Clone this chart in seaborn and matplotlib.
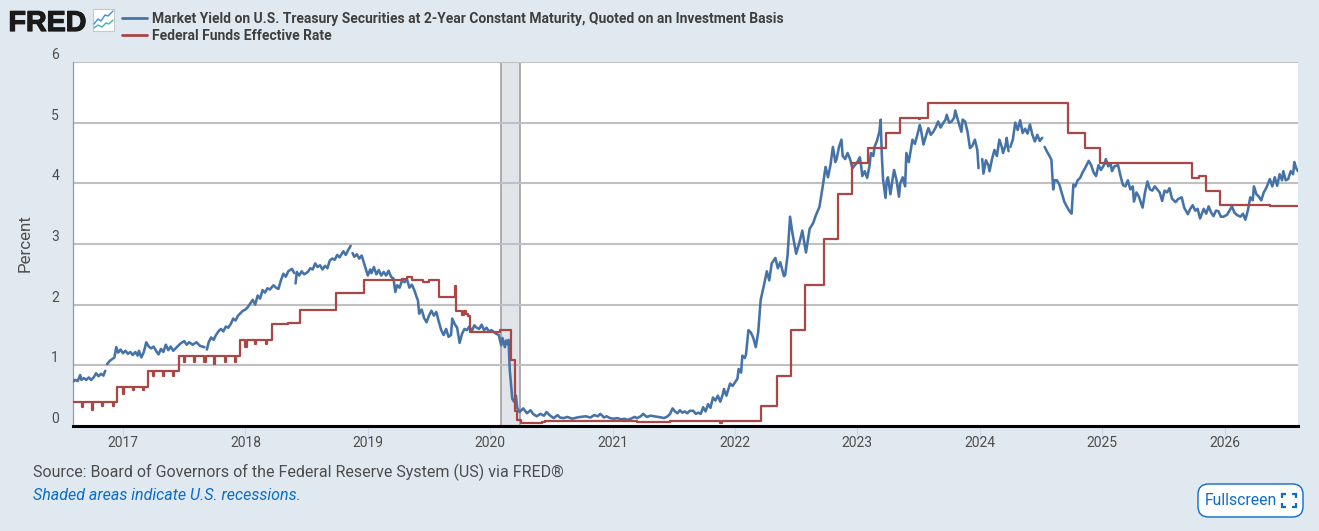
#!/usr/bin/env python3
"""FRED chart: 2-year Treasury yield vs effective fed funds rate"""

import numpy as np
import pandas as pd
import matplotlib
matplotlib.use("Agg")
import matplotlib.pyplot as plt
import matplotlib.patheffects as pe
from matplotlib.lines import Line2D
from matplotlib.patches import FancyBboxPatch, Rectangle
import seaborn as sns

# --- data (decimal years, percent) ---
blue_dates = [
    2016.59, 2016.61, 2016.63, 2016.65, 2016.66, 2016.68, 2016.70, 2016.72, 2016.74, 2016.76, 2016.78,
    2016.80, 2016.82, 2016.84, 2016.855, 2016.87, 2016.89, 2016.91, 2016.93, 2016.945, 2016.96, 2016.98,
    2017.00, 2017.02, 2017.04, 2017.06, 2017.08, 2017.10, 2017.12, 2017.13, 2017.15, 2017.17,
    2017.19, 2017.21, 2017.23, 2017.25, 2017.27, 2017.29, 2017.31, 2017.33, 2017.35, 2017.37,
    2017.39, 2017.41, 2017.43, 2017.45, 2017.47, 2017.50, 2017.52, 2017.54, 2017.57, 2017.60,
    2017.63, 2017.665, 2017.685, 2017.70, 2017.72, 2017.74, 2017.76, 2017.78, 2017.80, 2017.82,
    2017.84, 2017.86, 2017.88, 2017.90, 2017.92, 2017.94, 2017.96, 2017.98,
    2018.00, 2018.02, 2018.04, 2018.06, 2018.08, 2018.10, 2018.12, 2018.14, 2018.16, 2018.18,
    2018.20, 2018.23, 2018.25, 2018.27, 2018.29, 2018.31, 2018.33, 2018.35, 2018.38, 2018.40,
    2018.41, 2018.42, 2018.44, 2018.46, 2018.48, 2018.51, 2018.53, 2018.55, 2018.57, 2018.59,
    2018.61, 2018.63, 2018.65, 2018.67, 2018.69, 2018.71, 2018.73, 2018.75, 2018.77, 2018.80,
    2018.82, 2018.84, 2018.86, 2018.875, 2018.89, 2018.91, 2018.93, 2018.95, 2018.97,
    2019.00, 2019.02, 2019.03, 2019.05, 2019.07, 2019.09, 2019.11, 2019.13, 2019.15, 2019.17,
    2019.19, 2019.21, 2019.225, 2019.24, 2019.26, 2019.28, 2019.30, 2019.32, 2019.34, 2019.36,
    2019.38, 2019.40, 2019.41, 2019.42, 2019.44, 2019.46, 2019.48, 2019.50, 2019.52, 2019.54,
    2019.56, 2019.58, 2019.60, 2019.62, 2019.64, 2019.66, 2019.68, 2019.69, 2019.71, 2019.73,
    2019.75, 2019.77, 2019.79, 2019.81, 2019.83, 2019.85, 2019.87, 2019.89, 2019.91, 2019.93,
    2019.95, 2019.97, 2019.99,
    2020.01, 2020.03, 2020.05, 2020.07, 2020.09, 2020.10, 2020.12, 2020.13, 2020.14, 2020.15,
    2020.16, 2020.17, 2020.18, 2020.195, 2020.21, 2020.22, 2020.24, 2020.27, 2020.30, 2020.33,
    2020.35, 2020.38, 2020.41, 2020.44, 2020.46, 2020.49, 2020.52, 2020.55, 2020.57, 2020.60,
    2020.63, 2020.67, 2020.71, 2020.74, 2020.78, 2020.82, 2020.85, 2020.88, 2020.90, 2020.93,
    2020.95, 2020.98,
    2021.01, 2021.04, 2021.07, 2021.10, 2021.12, 2021.15, 2021.18, 2021.20, 2021.23, 2021.25,
    2021.28, 2021.31, 2021.34, 2021.37, 2021.40, 2021.42, 2021.45, 2021.47, 2021.49, 2021.51,
    2021.53, 2021.55, 2021.57, 2021.59, 2021.61, 2021.63, 2021.66, 2021.68, 2021.70, 2021.72,
    2021.74, 2021.76, 2021.78, 2021.80, 2021.82, 2021.84, 2021.86, 2021.88, 2021.90, 2021.91,
    2021.93, 2021.96, 2021.98,
    2022.00, 2022.02, 2022.03, 2022.05, 2022.06, 2022.08, 2022.09, 2022.11, 2022.13, 2022.15,
    2022.17, 2022.19, 2022.21, 2022.24, 2022.26, 2022.28, 2022.30, 2022.33, 2022.35, 2022.37,
    2022.40, 2022.41, 2022.43, 2022.45, 2022.47, 2022.50, 2022.53, 2022.55, 2022.58, 2022.61,
    2022.64, 2022.66, 2022.69, 2022.72, 2022.74, 2022.76, 2022.78, 2022.80, 2022.82, 2022.83,
    2022.85, 2022.87, 2022.88, 2022.90, 2022.92, 2022.94, 2022.96, 2022.98,
    2023.00, 2023.02, 2023.03, 2023.04, 2023.06, 2023.08, 2023.10, 2023.11, 2023.13, 2023.14,
    2023.16, 2023.18, 2023.19, 2023.20, 2023.21, 2023.23, 2023.24, 2023.25, 2023.27, 2023.29,
    2023.30, 2023.32, 2023.34, 2023.35, 2023.37, 2023.39, 2023.40, 2023.42, 2023.45, 2023.47,
    2023.49, 2023.51, 2023.52, 2023.54, 2023.56, 2023.58, 2023.60, 2023.62, 2023.64, 2023.66,
    2023.68, 2023.70, 2023.72, 2023.73, 2023.75, 2023.77, 2023.79, 2023.80, 2023.82, 2023.85,
    2023.86, 2023.88, 2023.90, 2023.92, 2023.94, 2023.96, 2023.98, 2023.99,
    2024.02, 2024.03, 2024.05, 2024.07, 2024.08, 2024.10, 2024.12, 2024.14, 2024.16, 2024.18,
    2024.19, 2024.21, 2024.22, 2024.235, 2024.25, 2024.27, 2024.29, 2024.31, 2024.33, 2024.35,
    2024.37, 2024.39, 2024.41, 2024.43, 2024.45, 2024.47, 2024.49, 2024.51, 2024.53, 2024.55,
    2024.57, 2024.585, 2024.60, 2024.61, 2024.63, 2024.65, 2024.67, 2024.69, 2024.71, 2024.73,
    2024.75, 2024.765, 2024.78, 2024.80, 2024.82, 2024.84, 2024.86, 2024.89, 2024.91, 2024.93,
    2024.95, 2024.97, 2024.99,
    2025.02, 2025.03, 2025.05, 2025.07, 2025.08, 2025.10, 2025.13, 2025.15, 2025.17, 2025.19,
    2025.21, 2025.23, 2025.25, 2025.26, 2025.28, 2025.30, 2025.33, 2025.35, 2025.37, 2025.39,
    2025.41, 2025.43, 2025.45, 2025.47, 2025.49, 2025.51, 2025.53, 2025.55, 2025.57, 2025.60,
    2025.62, 2025.65, 2025.67, 2025.70, 2025.72, 2025.74, 2025.76, 2025.78, 2025.80, 2025.83,
    2025.85, 2025.87, 2025.89, 2025.91, 2025.93, 2025.95, 2025.97, 2025.99,
    2026.02, 2026.04, 2026.06, 2026.08, 2026.10, 2026.13, 2026.15, 2026.17, 2026.19, 2026.21,
    2026.23, 2026.24, 2026.26, 2026.28, 2026.30, 2026.32, 2026.34, 2026.37, 2026.39, 2026.41,
    2026.43, 2026.45, 2026.47, 2026.48, 2026.50, 2026.52, 2026.54, 2026.56, 2026.57, 2026.585,
    2026.60,
]
blue_values = [
    .73, .76, .74, .84, .76, .79, .76, .80, .76, .80, .87,
    .82, .86, .83, .91, 1.02, 1.07, 1.10, 1.13, 1.30, 1.21, 1.26,
    1.20, 1.24, 1.19, 1.22, 1.17, 1.22, 1.16, 1.24, 1.13, 1.22,
    1.38, 1.31, 1.28, 1.31, 1.24, 1.18, 1.27, 1.22, 1.34, 1.25,
    1.31, 1.24, 1.28, 1.32, 1.36, 1.40, 1.34, 1.38, 1.34, 1.38,
    1.32, 1.30, 1.26, 1.38, 1.46, 1.42, 1.50, 1.56, 1.60, 1.56,
    1.64, 1.62, 1.68, 1.77, 1.74, 1.82, 1.86, 1.90,
    1.92, 1.96, 2.02, 2.08, 2.00, 2.15, 2.10, 2.24, 2.20, 2.27,
    2.25, 2.32, 2.28, 2.26, 2.40, 2.51, 2.46, 2.55, 2.59, 2.52,
    2.35, 2.54, 2.48, 2.55, 2.50, 2.54, 2.60, 2.58, 2.68, 2.62,
    2.65, 2.58, 2.64, 2.60, 2.73, 2.76, 2.74, 2.82, 2.78, 2.88,
    2.82, 2.90, 2.97, 2.85, 2.79, 2.83, 2.76, 2.81, 2.68,
    2.48, 2.58, 2.52, 2.62, 2.50, 2.57, 2.48, 2.54, 2.48, 2.56,
    2.46, 2.43, 2.21, 2.32, 2.28, 2.40, 2.37, 2.42, 2.28, 2.33,
    2.24, 2.12, 2.07, 1.85, 1.92, 1.78, 1.71, 1.82, 1.90, 1.82,
    1.88, 1.72, 1.58, 1.50, 1.60, 1.47, 1.50, 1.77, 1.68, 1.62,
    1.37, 1.52, 1.60, 1.58, 1.64, 1.56, 1.66, 1.62, 1.60, 1.67,
    1.58, 1.62, 1.56,
    1.58, 1.55, 1.52, 1.50, 1.33, 1.45, 1.30, 1.41, 1.35, 1.42,
    .92, .70, .45, .40, .50, .30, .23, .29, .21, .26,
    .20, .16, .20, .17, .23, .17, .13, .18, .14, .13,
    .15, .12, .14, .15, .16, .14, .18, .16, .20, .14,
    .16, .13,
    .12, .13, .11, .12, .10, .12, .15, .13, .16, .20,
    .15, .17, .16, .15, .14, .13, .16, .20, .29, .24,
    .21, .26, .22, .24, .21, .25, .25, .20, .22, .20,
    .31, .24, .36, .30, .47, .42, .50, .40, .52, .61,
    .50, .70, .66,
    .72, .78, .94, .88, 1.16, 1.12, 1.18, 1.58, 1.54, 1.45,
    1.30, 1.55, 2.08, 2.35, 2.55, 2.40, 2.68, 2.77, 2.60, 2.70,
    2.47, 2.49, 2.82, 3.45, 3.17, 2.84, 3.05, 3.22, 2.86, 3.25,
    3.35, 3.47, 3.61, 3.99, 4.27, 4.10, 4.30, 4.60, 4.35, 4.40,
    4.60, 4.72, 4.45, 4.40, 4.50, 4.40, 4.25, 4.30,
    4.35, 4.43, 4.30, 4.12, 4.20, 4.09, 4.30, 4.50, 4.45, 4.60,
    4.70, 4.85, 5.05, 4.45, 4.06, 3.76, 4.05, 4.10, 3.82, 4.10,
    4.22, 4.05, 3.78, 4.00, 4.10, 3.95, 4.50, 4.35, 4.72, 4.65,
    4.80, 4.96, 4.88, 4.64, 4.78, 4.91, 4.80, 4.85, 4.92, 5.02,
    4.92, 4.99, 5.05, 5.13, 5.00, 5.02, 5.08, 5.20, 5.05, 4.85,
    5.05, 5.02, 4.85, 4.58, 4.62, 4.72, 4.55, 4.25,
    4.40, 4.16, 4.38, 4.30, 4.20, 4.40, 4.55, 4.45, 4.72, 4.60,
    4.50, 4.62, 4.75, 4.53, 4.60, 4.72, 5.00, 4.88, 5.04, 4.83,
    4.90, 4.82, 4.97, 4.80, 4.69, 4.80, 4.70, 4.75, 4.60, 4.52,
    4.45, 4.39, 3.90, 4.05, 4.05, 3.98, 3.84, 3.70, 3.62, 3.55,
    3.50, 3.98, 3.95, 4.05, 4.09, 4.18, 4.25, 4.37, 4.30, 4.18,
    4.12, 4.30, 4.22,
    4.32, 4.40, 4.28, 4.32, 4.20, 4.28, 4.30, 4.12, 3.97, 3.95,
    4.05, 3.90, 3.95, 3.70, 3.85, 3.78, 3.60, 3.85, 4.03, 3.90,
    3.88, 3.95, 3.90, 3.85, 3.71, 3.88, 3.85, 3.92, 3.75, 3.69,
    3.74, 3.77, 3.60, 3.49, 3.58, 3.64, 3.55, 3.58, 3.42, 3.58,
    3.50, 3.62, 3.52, 3.46, 3.55, 3.54, 3.45, 3.45,
    3.48, 3.55, 3.62, 3.52, 3.48, 3.45, 3.50, 3.40, 3.55, 3.77,
    3.72, 3.95, 3.82, 3.78, 3.72, 3.85, 3.92, 4.07, 3.95, 4.10,
    3.96, 4.15, 4.05, 4.20, 4.05, 4.07, 4.20, 4.15, 4.35, 4.25,
    4.20,
]
# days with no quote, the line stops there
blue_gaps = [2016.865, 2017.675, 2018.405, 2018.868, 2024.005, 2024.243, 2024.52]

red_dates = [
    2016.59, 2016.665, 2016.675, 2016.745, 2016.755, 2016.83, 2016.84, 2016.915, 2016.925, 2016.955,
    2017.00, 2017.01, 2017.08, 2017.09, 2017.16, 2017.17, 2017.205, 2017.245, 2017.255, 2017.325,
    2017.335, 2017.41, 2017.42, 2017.455, 2017.50, 2017.51, 2017.58, 2017.59, 2017.665, 2017.675,
    2017.745, 2017.755, 2017.83, 2017.84, 2017.915, 2017.925, 2017.955,
    2018.00, 2018.012, 2018.08, 2018.09, 2018.165, 2018.175, 2018.22, 2018.35, 2018.45, 2018.60,
    2018.74, 2018.85, 2018.97,
    2019.20, 2019.28, 2019.32, 2019.36, 2019.45, 2019.50, 2019.58, 2019.71, 2019.72, 2019.77,
    2019.79, 2019.80, 2019.82, 2019.835,
    2020.08, 2020.17, 2020.205, 2020.22, 2020.25, 2020.42, 2020.45,
    2021.20, 2021.47, 2021.67, 2021.88, 2021.89,
    2022.21, 2022.34, 2022.455, 2022.57, 2022.73, 2022.84, 2022.96,
    2023.09, 2023.23, 2023.35, 2023.50, 2023.51, 2023.58,
    2024.72, 2024.86, 2024.98,
    2025.73, 2025.79, 2025.845, 2025.96,
    2026.37, 2026.60,
]
red_values = [
    .40, .32, .40, .27, .40, .33, .40, .33, .40, .65,
    .53, .65, .59, .65, .59, .65, .91, .83, .91, .83,
    .91, .83, .91, 1.16, 1.05, 1.16, 1.05, 1.16, 1.05, 1.16,
    1.03, 1.16, 1.05, 1.16, 1.05, 1.16, 1.42,
    1.31, 1.42, 1.35, 1.42, 1.35, 1.42, 1.68, 1.69, 1.91, 1.92,
    2.19, 2.20, 2.40,
    2.41, 2.42, 2.45, 2.40, 2.38, 2.40, 2.13, 2.30, 1.90, 1.83,
    1.90, 1.85, 1.82, 1.55,
    1.58, 1.09, .25, .10, .05, .06, .09,
    .07, .09, .08, .05, .08,
    .33, .83, 1.58, 2.33, 3.08, 3.83, 4.33,
    4.58, 4.83, 5.08, 5.06, 5.08, 5.33,
    4.83, 4.58, 4.33,
    4.09, 4.12, 3.88, 3.64,
    3.62, 3.63,
]
recession = [2020.086, 2020.243]
years = list(range(2017, 2027))
percent_ticks = [0, 1, 2, 3, 4, 5, 6]
blue_name = "Market Yield on U.S. Treasury Securities at 2-Year Constant Maturity, Quoted on an Investment Basis"
red_name = "Federal Funds Effective Rate"
source_text = "Source: Board of Governors of the Federal Reserve System (US) via FRED\u00ae"
note_text = "Shaded areas indicate U.S. recessions."

# --- styling ---
W, H = 1319, 531
BG = "#e1e9f0"
BLUE = "#4572a7"
RED = "#aa4643"
TEXT = "#4d4d4d"
LINK = "#0a6ccb"


def px(x):
    return x / W


def py(y):
    return 1 - y / H


sns.set_theme(style="white")
plt.rcParams["font.family"] = ["Roboto", "DejaVu Sans"]

fig = plt.figure(figsize=(W / 100, H / 100), dpi=100, facecolor=BG)
ax = fig.add_axes([px(73), py(426), px(1298) - px(73), py(62) - py(426)])
ax.set_facecolor("white")

blue_df = pd.DataFrame({"date": blue_dates, "value": blue_values})
blue_df["segment"] = np.searchsorted(blue_gaps, blue_df["date"])
red_df = pd.DataFrame({"date": red_dates, "value": red_values})

ax.axvspan(recession[0], recession[1], facecolor="#e1e5ea", edgecolor="#999999", linewidth=1.1, zorder=0)
ax.grid(axis="y", color="#c0c0c0", linewidth=1.5, zorder=1)
ax.set_axisbelow(True)

sns.lineplot(data=blue_df, x="date", y="value", units="segment", estimator=None, sort=False,
             color=BLUE, linewidth=1.85, ax=ax, zorder=3, solid_joinstyle="round")
sns.lineplot(data=red_df, x="date", y="value", estimator=None, sort=False, drawstyle="steps-post",
             color=RED, linewidth=1.6, ax=ax, zorder=4)

ax.set_xlim(2016.5915, 2026.6)
ax.set_ylim(0, 6)
ax.set_xticks(years)
ax.set_xticklabels([str(y) for y in years])
ax.set_yticks(percent_ticks)
ax.set_xlabel("")
ax.set_ylabel("")
ax.tick_params(axis="x", length=7.5, width=0.8, color="#ccd6eb", labelsize=10, labelcolor=TEXT, pad=0, bottom=True)
ax.tick_params(axis="y", length=0, labelsize=10, labelcolor=TEXT, pad=10)
for label in ax.get_yticklabels():
    label.set_verticalalignment("bottom")

for side in ["top", "right"]:
    ax.spines[side].set_visible(False)
ax.spines["left"].set_color("#999999")
ax.spines["left"].set_linewidth(0.9)
ax.spines["bottom"].set_color("black")
ax.spines["bottom"].set_linewidth(2.2)

fig.text(px(25), py(243.5), "Percent", rotation=90, ha="center", va="center", fontsize=12.2, color=TEXT)

# legend on the top row
handles = [Line2D([], [], color=BLUE, linewidth=2), Line2D([], [], color=RED, linewidth=2)]
leg = fig.legend(handles, [blue_name, red_name], loc="upper left", bbox_to_anchor=(px(122), py(12)),
                 frameon=False, borderaxespad=0, borderpad=0, handlelength=1.8, handletextpad=0.36,
                 labelspacing=0.24, prop={"family": "Roboto", "weight": "bold", "size": 10.03})
for t in leg.get_texts():
    t.set_color("#3f3f3f")

# logo
logo = fig.text(px(8.5), py(31), "FRED", ha="left", va="baseline", fontsize=20.6, fontweight="bold",
                family="Liberation Sans", color="#1a1a1a")
logo.set_path_effects([pe.withStroke(linewidth=0.9, foreground="#1a1a1a")])
fig.add_artist(Rectangle((px(93), py(31)), 21 / W, 22 / H, facecolor="white", edgecolor="#c5c9cf",
                         linewidth=0.8, transform=fig.transFigure))
fig.add_artist(Line2D([px(94), px(98), px(101), px(105), px(108), px(113)],
                      [py(24), py(19), py(21), py(15), py(16), py(11)], color="#3f8fe0", linewidth=1))
fig.add_artist(Line2D([px(94), px(98), px(102), px(106), px(109), px(113)],
                      [py(28), py(25), py(27), py(23), py(24), py(20)], color="#3fb8a0", linewidth=1))

# footer
fig.text(px(33), py(472), source_text, ha="left", va="center", fontsize=11.5, color=TEXT)
fig.text(px(33), py(495), note_text, ha="left", va="center", fontsize=11.55, color=LINK, style="italic")

# fullscreen button
fig.add_artist(FancyBboxPatch((px(1198), py(517)), 105 / W, 33 / H,
                              boxstyle="round,pad=0,rounding_size=0.008", mutation_aspect=W / H,
                              facecolor="white", edgecolor=LINK, linewidth=1, transform=fig.transFigure))
fig.text(px(1205), py(500.5), "Fullscreen", ha="left", va="center", fontsize=11.3, color=LINK)
for cx, cy, dx, dy in [(1282, 494, 1, 1), (1296, 494, -1, 1), (1282, 507, 1, -1), (1296, 507, -1, -1)]:
    fig.add_artist(Line2D([px(cx + 4 * dx), px(cx), px(cx)], [py(cy), py(cy), py(cy + 4 * dy)],
                          color=LINK, linewidth=1.6, solid_joinstyle="miter", solid_capstyle="butt"))

fig.savefig("out.png", dpi=100, facecolor=BG)
plt.close(fig)
